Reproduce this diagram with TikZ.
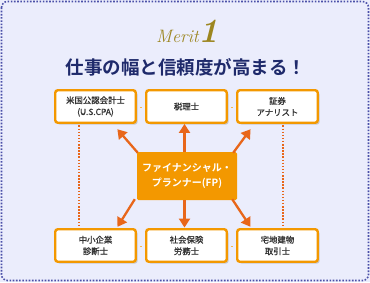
\documentclass[tikz,border=0pt]{standalone}
\usepackage{fontspec}
\newfontfamily\jp[FakeBold=1.2]{Noto Sans CJK JP}
\newfontfamily\jpb{Noto Sans CJK JP Bold}
\usetikzlibrary{arrows.meta,shadows}
\definecolor{bgc}{HTML}{EBEDFC}
\definecolor{bordc}{HTML}{4A50A8}
\definecolor{orng}{HTML}{F39800}
\definecolor{arr}{HTML}{E8661A}
\definecolor{navy}{HTML}{1F2A6B}
\definecolor{gold}{HTML}{9C8620}
\tikzset{
  jobbox/.style={draw=orng, line width=2.4pt, fill=white, rounded corners=2.5pt,
    minimum width=80.5pt, minimum height=32.5pt, align=center, inner sep=0pt,
    font=\jp\fontsize{8.4}{11.5}\selectfont, text=black!80,
    drop shadow={shadow xshift=1.8pt, shadow yshift=-1.8pt, fill=black!30, opacity=0.6}},
  fpbox/.style={fill=orng, rounded corners=1.5pt, minimum width=100pt, minimum height=48pt,
    align=center, inner sep=0pt, text=white, font=\jpb\fontsize{10}{15}\selectfont},
  arrw/.style={draw=arr, line width=2.3pt, -{Triangle[length=9pt,width=11pt]}, shorten >=-1pt},
  hdots/.style={draw=orng!70, line width=1.6pt, dotted, line cap=butt},
  vdots/.style={draw=arr, line width=1.5pt, dash pattern=on 1.5pt off 1.6pt}
}
\begin{document}
\begin{tikzpicture}[x=1pt,y=-1pt]
\useasboundingbox (0,0) rectangle (370,282);
\fill[bgc] (0,0) rectangle (370,282);
\draw[bordc, line width=1.6pt, dash pattern=on 1.6pt off 1.6pt, rounded corners=6pt] (1.5,1.5) rectangle (368.5,280.5);
% heading
\node[anchor=base east, text=gold, inner sep=0pt, font=\fontsize{18}{18}\selectfont\itshape] (merit) at (199,42) {Merit};
\node[anchor=base west, text=gold, inner sep=0pt, font=\fontsize{34}{34}\selectfont\bfseries\itshape] (one) at (198,42.5) {1};
\node[text=navy, inner sep=0pt, font=\jpb\fontsize{18.5}{18.5}\selectfont] (title) at (186,67) {仕事の幅と信頼度が高まる！};
% boxes
\node[jobbox] (cpa) at (95.5,106.5) {米国公認会計士\\(U.S.CPA)};
\node[jobbox] (tax) at (186.5,106.5) {税理士};
\node[jobbox] (sec) at (277.5,106.5) {証券\\アナリスト};
\node[jobbox] (smb) at (95.5,245.5) {中小企業\\診断士};
\node[jobbox] (lab) at (186.5,245.5) {社会保険\\労務士};
\node[jobbox] (est) at (277.5,245.5) {宅地建物\\取引士};
\node[fpbox] (fp) at (187,176) {ファイナンシャル・\\プランナー(FP)};
% dotted links
\draw[hdots] (cpa.east) ++(3,1) -- ++(3,0);
\draw[hdots] (tax.east) ++(3,1) -- ++(3,0);
\draw[hdots] (smb.east) ++(3,1) -- ++(3,0);
\draw[hdots] (lab.east) ++(3,1) -- ++(3,0);
\draw[vdots] ([xshift=-16.5pt,yshift=-1.5pt]cpa.south) -- ([xshift=-16.5pt,yshift=1.5pt]smb.north);
\draw[vdots] ([xshift=5.5pt,yshift=-1.5pt]sec.south) -- ([xshift=5.5pt,yshift=1.5pt]est.north);
% arrows
\coordinate (t1) at (118,130);
\coordinate (t3) at (250,130);
\coordinate (b1) at (118,226);
\coordinate (b3) at (250,226);
\draw[arrw] ([xshift=1pt,yshift=-1pt]fp.north west) -- (t1);
\draw[arrw] (fp.north -| 184.5,0) -- ([yshift=-1pt]tax.south -| 184.5,0);
\draw[arrw] ([xshift=-4pt,yshift=-1pt]fp.north east) -- (t3);
\draw[arrw] ([xshift=-2pt,yshift=1pt]fp.south west) -- (b1);
\draw[arrw] (fp.south -| 184.5,0) -- ([yshift=1.5pt]lab.north -| 184.5,0);
\draw[arrw] ([xshift=-5pt,yshift=1pt]fp.south east) -- (b3);
\end{tikzpicture}
\end{document}
